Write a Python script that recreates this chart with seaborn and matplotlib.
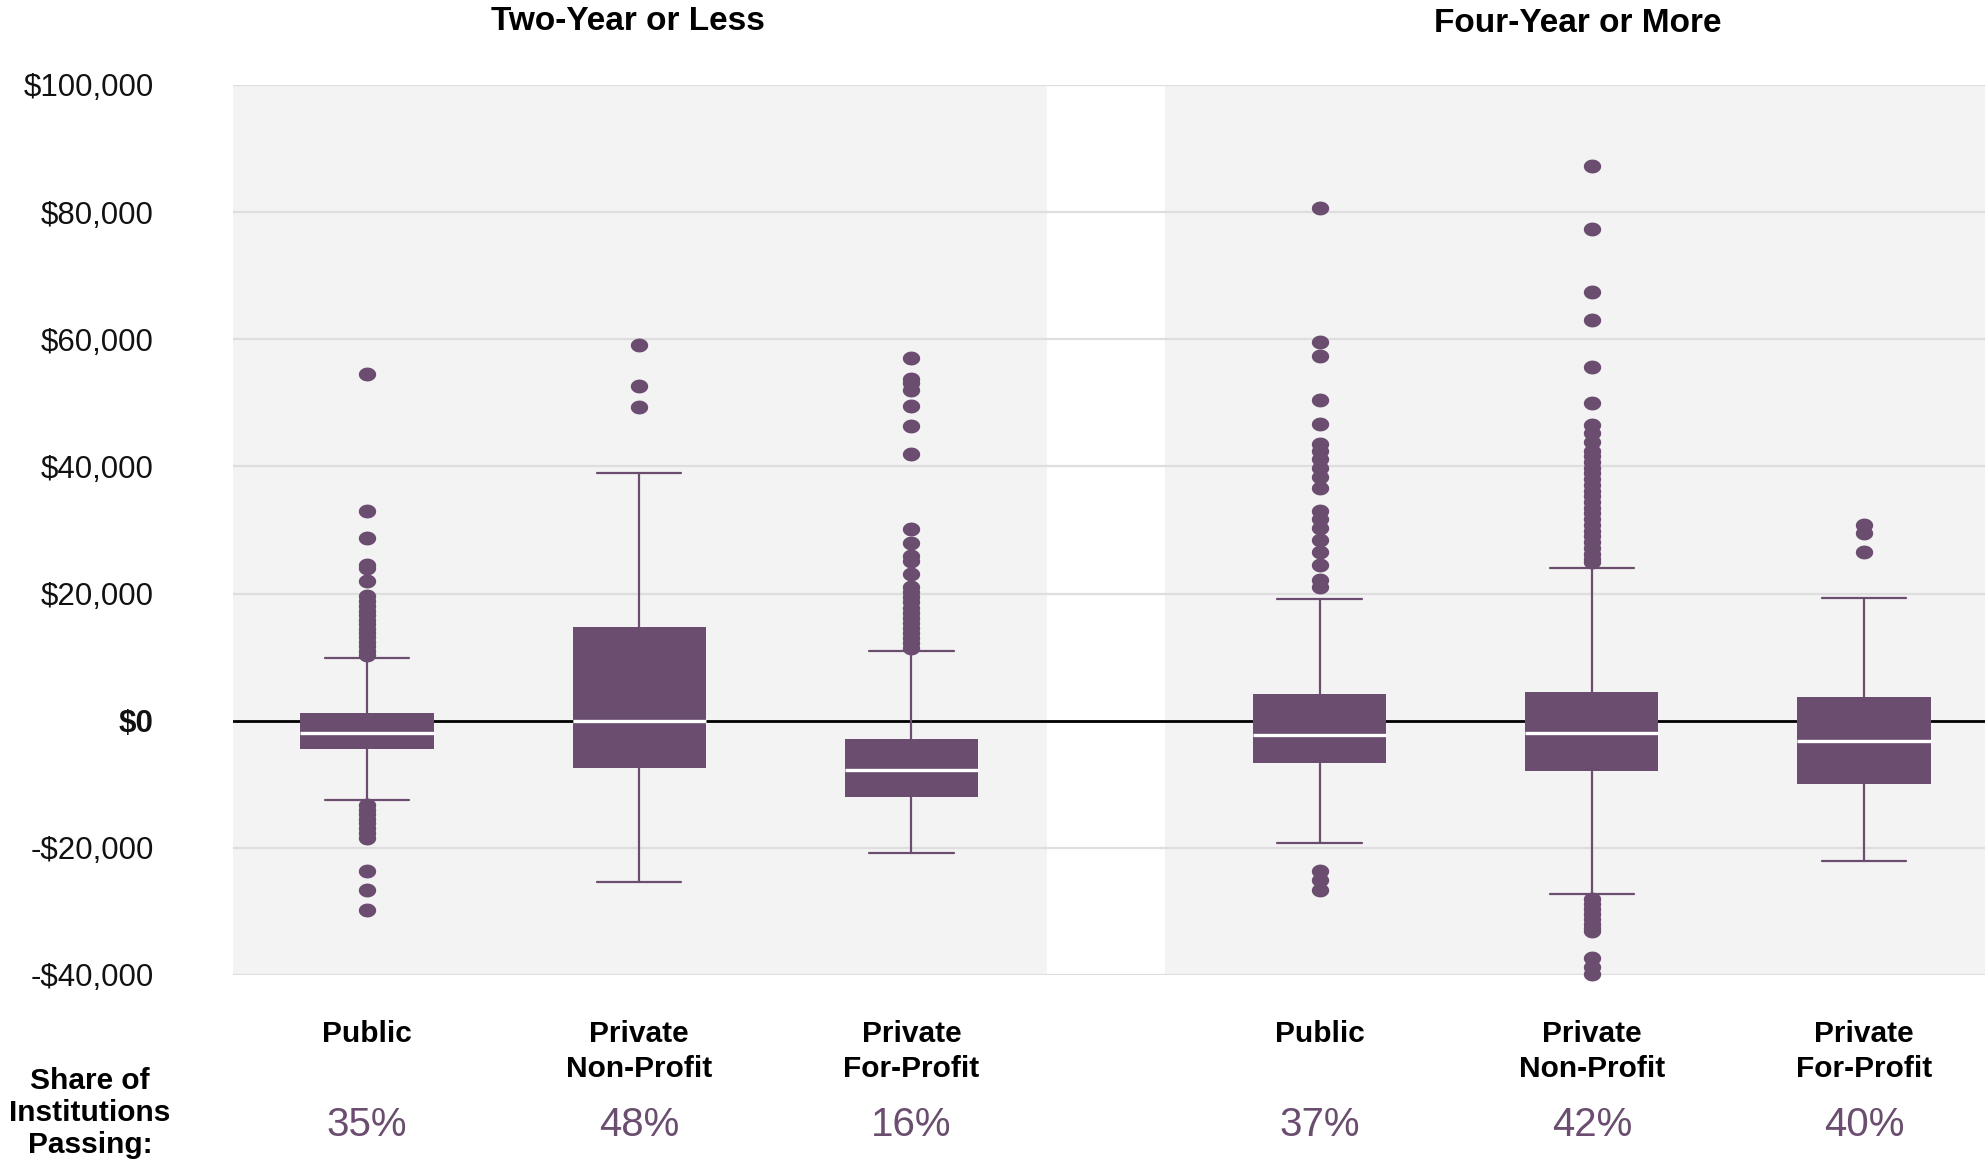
import matplotlib
matplotlib.use("Agg")
import matplotlib.pyplot as plt
import matplotlib.transforms as mtransforms
from matplotlib.path import Path
import numpy as np
import seaborn as sns

# box statistics, in thousands of dollars
categories = ["Public", "Private\nNon-Profit", "Private\nFor-Profit",
              "Public", "Private\nNon-Profit", "Private\nFor-Profit"]
groups = ["Two-Year or Less", "Four-Year or More"]
shares = ["35%", "48%", "16%", "37%", "42%", "40%"]

medians = [-1.9, 0.0, -7.7, -2.2, -1.9, -3.2]
q1 = [-4.4, -7.5, -12.0, -6.7, -7.9, -10.0]
q3 = [1.2, 14.7, -2.8, 4.2, 4.5, 3.8]
whis_lo = [-12.4, -25.3, -20.8, -19.2, -27.3, -22.1]
whis_hi = [9.9, 38.9, 11.0, 19.2, 24.0, 19.3]

outliers = [
    [54.5, 33.0, 28.7, 24.5, 24.0, 22.0, 19.6, 18.8, 18.0, 17.3, 16.6, 15.9,
     15.2, 14.5, 13.8, 13.1, 12.4, 11.7, 11.0, 10.4,
     -13.3, -14.0, -14.7, -15.4, -16.1, -16.8, -17.6, -18.5, -23.6, -26.6, -29.7],
    [59.1, 52.6, 49.3],
    [57.0, 53.8, 53.1, 52.1, 49.5, 46.3, 42.0, 30.2, 28.0, 25.9, 25.2, 23.1,
     21.0, 20.2, 19.4, 18.6, 17.8, 17.0, 16.2, 15.4, 14.6, 13.8, 13.0, 12.2, 11.5],
    [80.7, 59.6, 57.3, 50.4, 46.7, 43.6, 42.5, 41.1, 39.8, 38.4, 36.6, 33.0,
     31.7, 30.3, 28.5, 26.5, 24.5, 22.2, 21.1, -23.7, -25.0, -26.6],
    [87.2, 77.3, 67.5, 63.0, 55.7, 50.0, 46.5, 45.2, 43.8, 42.5, 41.6, 40.7,
     39.8, 38.9, 38.0, 37.1, 36.2, 35.3, 34.4, 33.5, 32.6, 31.7, 30.8, 29.9,
     29.0, 28.1, 27.2, 26.3, 25.5, 24.9,
     -28.0, -28.8, -29.6, -30.4, -31.2, -32.0, -32.6, -33.1, -37.3, -38.8, -39.9],
    [30.8, 29.6, 26.5],
]

y_ticks = [100000, 80000, 60000, 40000, 20000, 0, -20000, -40000]

PURPLE = "#6b4d70"
PANEL = "#f3f3f3"
GRID = "#dedede"

sns.set_theme(style="white")
plt.rcParams["font.family"] = ["Liberation Sans", "DejaVu Sans"]

positions = [0, 1, 2, 3.5, 4.5, 5.5]
group_centers = [0.96, 4.45]

stats = []
for i in range(len(categories)):
    stats.append({
        "med": medians[i] * 1000,
        "q1": q1[i] * 1000,
        "q3": q3[i] * 1000,
        "whislo": whis_lo[i] * 1000,
        "whishi": whis_hi[i] * 1000,
        "fliers": np.array(outliers[i]) * 1000,
    })

fig = plt.figure(figsize=(19.85, 11.61), dpi=100)
ax = fig.add_axes([233 / 1985, 1 - 975 / 1161, 1 - 233 / 1985, (975 - 85) / 1161])

ax.set_xlim(-0.493, 5.945)
ax.set_ylim(-40000, 100000)

# grey panels behind each group
ax.axvspan(-0.493, 2.5, color=PANEL, zorder=0, lw=0)
ax.axvspan(2.93, 5.945, color=PANEL, zorder=0, lw=0)
for t in y_ticks:
    if t != 0:
        ax.axhline(t, color=GRID, lw=1.6, zorder=1)
ax.axhline(0, color="black", lw=2.0, zorder=2)

# slightly flattened dot for the outliers
th = np.linspace(0, 2 * np.pi, 60)
ellipse = Path(np.column_stack([np.cos(th), 0.8 * np.sin(th)]), closed=True)

ax.bxp(stats, positions=positions, widths=0.49, capwidths=0.31,
       patch_artist=True, showfliers=True, manage_ticks=False,
       boxprops=dict(facecolor=PURPLE, edgecolor=PURPLE, lw=0, zorder=3),
       whiskerprops=dict(color=PURPLE, lw=1.6, zorder=3),
       capprops=dict(color=PURPLE, lw=1.6, zorder=3),
       medianprops=dict(color="white", lw=2.4, zorder=4),
       flierprops=dict(marker=ellipse, markersize=12.5, markerfacecolor=PURPLE,
                       markeredgecolor=PURPLE, markeredgewidth=0, linestyle="none",
                       zorder=5, clip_on=False))

sns.despine(ax=ax, left=True, bottom=True)
ax.set_xticks([])
ax.set_yticks(y_ticks)
ax.set_yticklabels([f"${v:,.0f}" if v >= 0 else f"-${-v:,.0f}" for v in y_ticks])
ax.tick_params(axis="y", length=0, pad=57, labelsize=22.5, labelcolor="#111111")
for lab in ax.get_yticklabels():
    if lab.get_text() == "$0":
        lab.set_fontweight("bold")
ax.grid(False)

trans = mtransforms.blended_transform_factory(ax.transData, fig.transFigure)
for name, gx, gy in zip(groups, group_centers, [22, 24]):
    ax.text(gx, 1 - gy / 1161, name, transform=trans, ha="center", va="center",
            fontsize=24, fontweight="bold", color="black")

for cat, px, sh in zip(categories, positions, shares):
    ax.text(px, 1 - 1020 / 1161, cat, transform=trans, ha="center", va="top",
            fontsize=21.5, fontweight="bold", color="black", linespacing=1.3)
    ax.text(px, 1 - 1125 / 1161, sh, transform=trans, ha="center", va="center",
            fontsize=29, color=PURPLE)

fig.text(90 / 1985, 1 - 1113 / 1161, "Share of\nInstitutions\nPassing:",
         ha="center", va="center", fontsize=21.5, fontweight="bold",
         color="black", linespacing=1.2)

fig.savefig("out.png", dpi=100)
